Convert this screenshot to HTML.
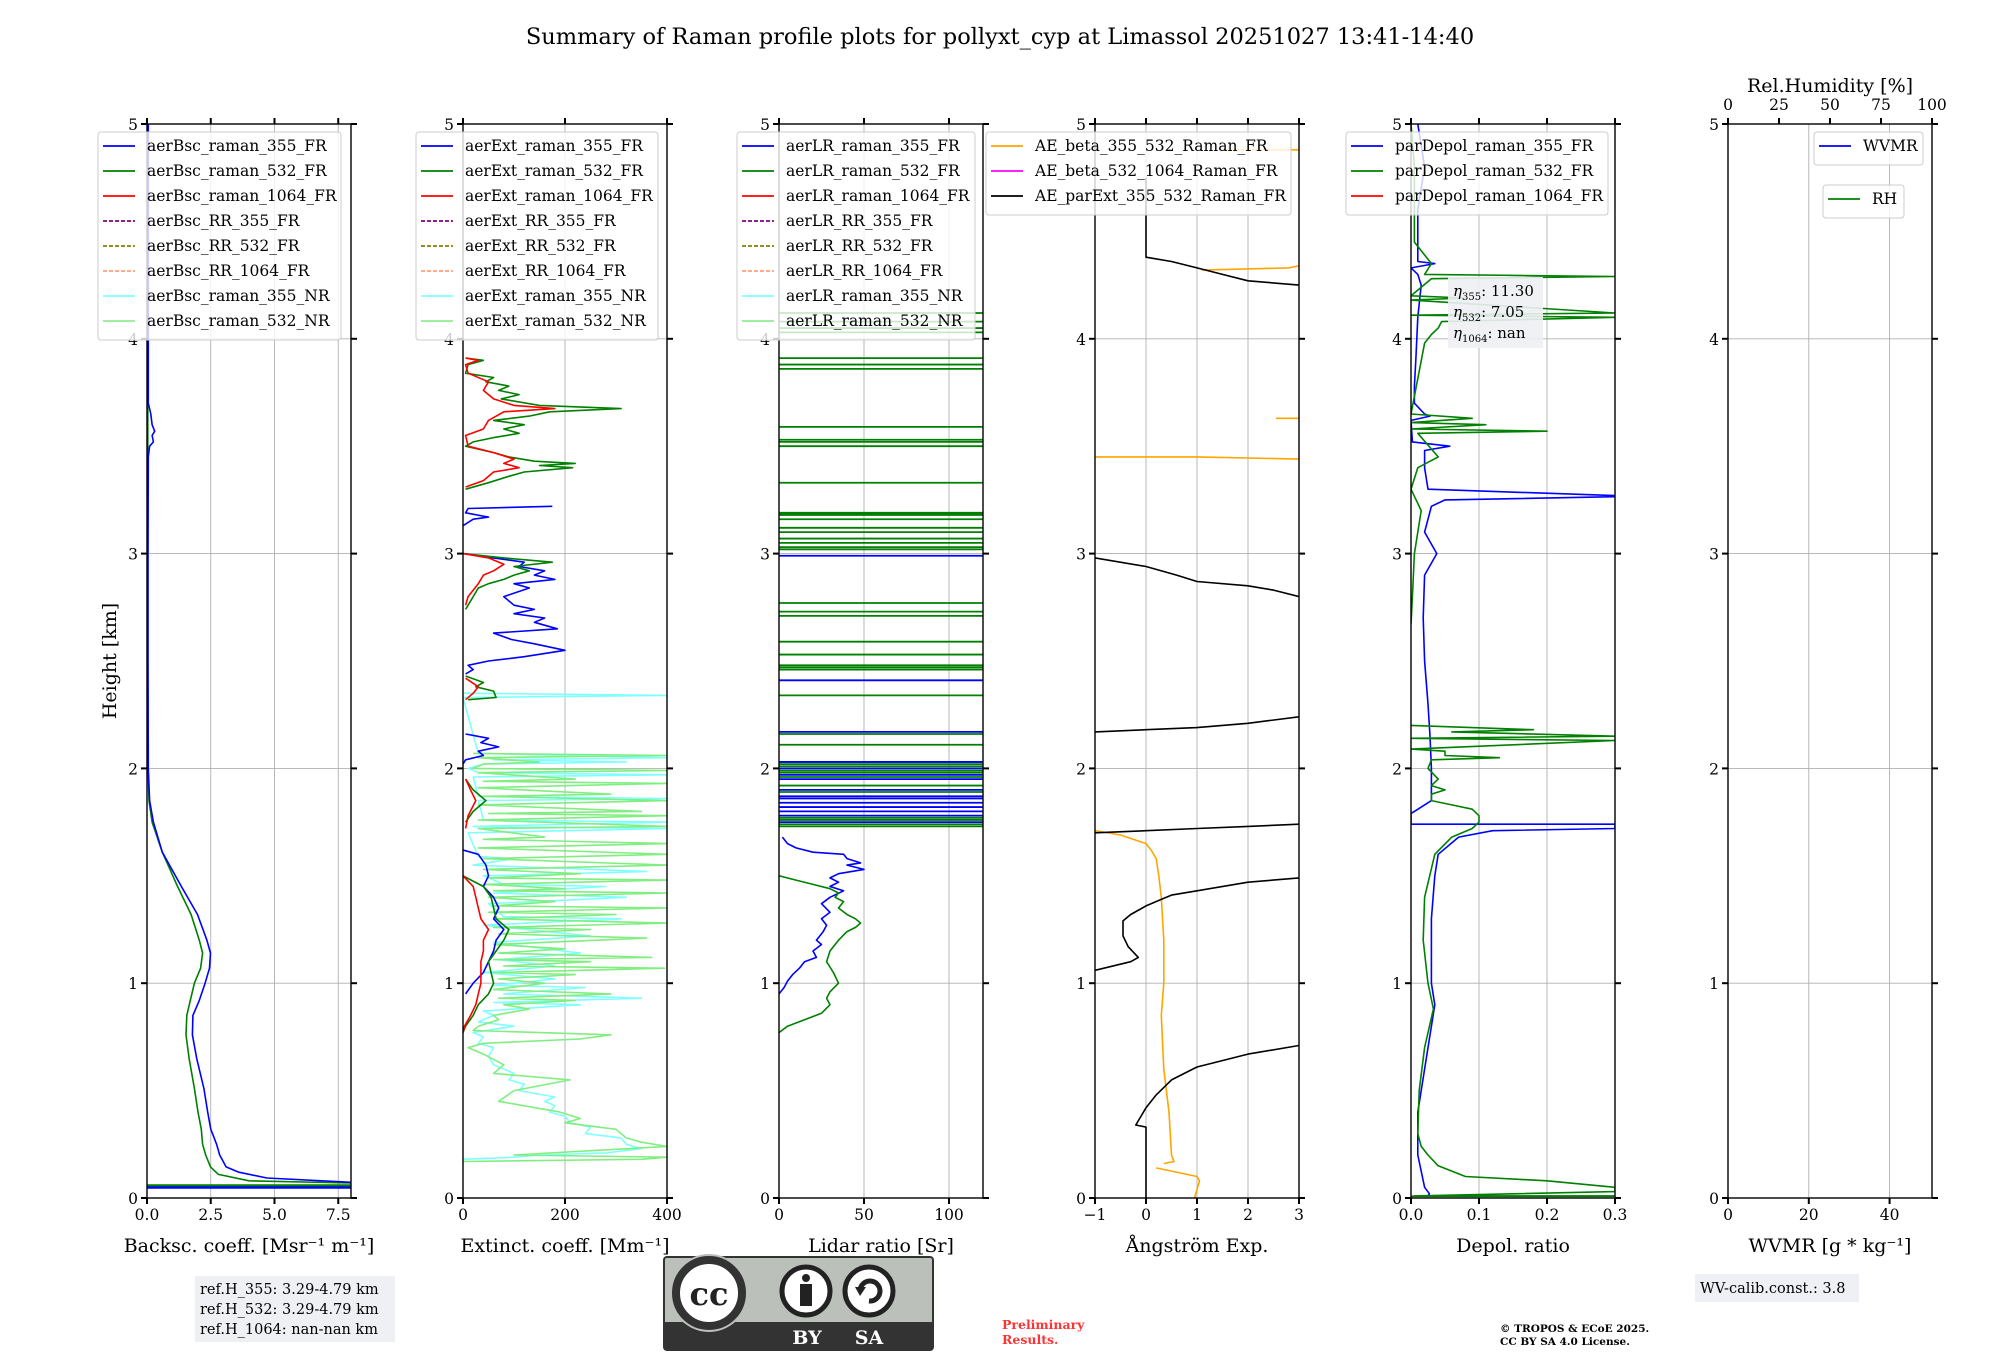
<!DOCTYPE html>
<html><head><meta charset="utf-8"><title>Raman profile summary</title>
<style>html,body{margin:0;padding:0;background:#fff}svg{display:block}text{font-family:"DejaVu Serif","Liberation Serif",serif}</style>
</head><body>
<svg id="fig" xmlns="http://www.w3.org/2000/svg" width="2000" height="1360" viewBox="0 0 2000 1360">
<rect width="2000" height="1360" fill="#fff"/>
<text x="1000" y="44" font-size="22.5" text-anchor="middle">Summary of Raman profile plots for pollyxt_cyp at Limassol 20251027 13:41-14:40</text>
<g id="axes"></g>
<g>
<rect x="195" y="1276" width="200" height="66" fill="#eef0f4"/>
<text x="200" y="1294" font-size="14.5">ref.H_355: 3.29-4.79 km</text>
<text x="200" y="1314" font-size="14.5">ref.H_532: 3.29-4.79 km</text>
<text x="200" y="1334" font-size="14.5">ref.H_1064: nan-nan km</text>
</g>
<g>
<rect x="664" y="1257" width="269" height="93" rx="3" fill="#bcc0bb" stroke="#333" stroke-width="2"/>
<rect x="665" y="1322" width="267" height="28" fill="#333"/>
<circle cx="709" cy="1293" r="39" fill="#bcc0bb"/>
<circle cx="709" cy="1293" r="33" fill="#fff" stroke="#333" stroke-width="8"/>
<text x="709" y="1305" font-size="32" font-weight="bold" text-anchor="middle" font-family="Liberation Sans, sans-serif" fill="#222">cc</text>
<circle cx="806" cy="1291" r="24" fill="#fff" stroke="#222" stroke-width="5"/>
<circle cx="806" cy="1278" r="4" fill="#222"/>
<rect x="800" y="1284" width="12" height="22" fill="#222"/>
<circle cx="869" cy="1291" r="24" fill="#fff" stroke="#222" stroke-width="5"/>
<path d="M860 1291 A10 10 0 1 1 869 1301" fill="none" stroke="#222" stroke-width="5"/>
<path d="M855 1287 L860 1296 L866 1287 Z" fill="#222"/>
<text x="807" y="1344" font-size="19" font-weight="bold" text-anchor="middle" font-family="Liberation Sans, sans-serif" fill="#fff">BY</text>
<text x="869" y="1344" font-size="19" font-weight="bold" text-anchor="middle" font-family="Liberation Sans, sans-serif" fill="#fff">SA</text>
</g>
<text x="1002" y="1329" font-size="12.5" font-weight="bold" fill="#ff3333">Preliminary</text>
<text x="1002" y="1344" font-size="12.5" font-weight="bold" fill="#ff3333">Results.</text>
<text x="1500" y="1332" font-size="10.5" font-weight="bold">© TROPOS &amp; ECoE 2025.</text>
<text x="1500" y="1345" font-size="10.5" font-weight="bold">CC BY SA 4.0 License.</text>
<g>
<rect x="1695" y="1274" width="164" height="28" fill="#eef0f4"/>
<text x="1700" y="1293" font-size="14.5">WV-calib.const.: 3.8</text>
</g>
</svg>
<script>
// ---------- DATA ----------
const bsc355H=[5,4.5,4.0,3.7,3.65,3.6,3.57,3.55,3.52,3.5,3.45,3.0,2.5,2.0,1.85,1.75,1.61,1.45,1.32,1.2,1.14,1.07,1.0,0.92,0.85,0.76,0.65,0.51,0.4,0.32,0.29,0.25,0.2,0.145,0.12,0.093,0.073,0.06,0.05,0.045];
const bsc355V=[0.05,0.05,0.05,0.05,0.15,0.2,0.3,0.2,0.25,0.1,0.05,0.04,0.04,0.05,0.1,0.25,0.6,1.35,1.98,2.35,2.49,2.45,2.28,2.05,1.8,1.78,1.95,2.23,2.38,2.5,2.6,2.73,2.85,3.1,3.6,4.7,8.0,8.5,8.5,8.5];
const bsc532H=[5,4.5,4.0,3.5,3.0,2.5,2.0,1.85,1.75,1.61,1.45,1.32,1.2,1.14,1.07,1.0,0.92,0.85,0.76,0.65,0.51,0.4,0.32,0.25,0.2,0.145,0.11,0.08,0.07,0.06];
const bsc532V=[0.02,0.03,0.03,0.03,0.03,0.03,0.04,0.08,0.2,0.6,1.2,1.73,2.05,2.18,2.1,1.86,1.7,1.56,1.53,1.65,1.86,2.0,2.13,2.18,2.3,2.49,2.8,4.0,8.0,8.5];
const bsc532LayerH=[0.06,0.057];
const bsc355LayerH=[0.05,0.047];

const ext532H=[3.91,3.90,3.88,3.84,3.82,3.80,3.78,3.76,3.74,3.72,3.69,3.675,3.66,3.64,3.62,3.60,3.58,3.56,3.54,3.52,3.50,3.47,3.45,3.43,3.42,3.41,3.40,3.38,3.36,3.33,3.30,null,3.0,2.98,2.96,2.94,2.92,2.90,2.88,2.86,2.84,2.80,2.76,2.74,null,2.43,2.40,2.38,2.36,2.33,2.32,null,1.95,1.90,1.85,1.80,1.75,null,1.50,1.45,1.40,1.35,1.30,1.25,1.20,1.15,1.10,1.05,1.0,0.95,0.90,0.85,0.80,0.77];
const ext532V=[5,40,10,5,60,45,90,70,110,75,150,310,170,130,60,120,80,110,60,20,5,60,90,140,220,150,215,120,90,50,5,null,0,80,175,100,130,100,80,50,30,20,10,5,null,5,40,25,60,65,10,null,5,20,45,20,5,null,0,40,55,60,65,90,80,65,50,55,60,50,30,20,5,0];
const ext1064H=[3.91,3.90,3.88,3.84,3.80,3.76,3.72,3.69,3.675,3.66,3.62,3.58,3.55,3.50,3.47,3.44,3.42,3.40,3.38,3.34,3.31,null,3.0,2.98,2.95,2.92,2.90,2.86,2.80,2.76,null,2.42,2.38,2.35,2.32,null,1.95,1.90,1.85,1.78,1.72,null,1.50,1.45,1.40,1.35,1.30,1.25,1.20,1.15,1.10,1.05,1.0,0.95,0.90,0.85,0.80,0.77];
const ext1064V=[5,30,5,10,50,40,60,100,180,80,50,40,5,10,60,100,80,110,60,40,5,null,0,50,80,60,40,30,10,5,null,5,30,20,5,null,5,15,25,10,5,null,0,20,25,30,35,50,40,40,35,35,35,30,25,15,3,0];
const ext355H=[3.22,3.21,3.19,3.17,3.16,3.13,null,3.0,2.98,2.96,2.94,2.92,2.90,2.88,2.86,2.84,2.80,2.76,2.74,2.72,2.70,2.68,2.65,2.63,2.60,2.58,2.55,2.52,2.50,2.48,2.46,2.44,null,2.16,2.14,2.12,2.10,2.08,2.06,2.04,2.02,null,1.62,1.60,1.55,1.50,1.45,1.40,1.35,1.30,1.25,1.20,1.15,1.10,1.05,1.0,0.95];
const ext355V=[175,10,5,50,20,0,null,0,60,120,110,160,140,180,100,130,80,100,140,100,160,140,185,60,95,140,200,120,50,10,20,5,null,5,50,35,70,30,40,5,0,null,0,30,45,50,40,60,70,60,80,65,60,50,40,20,5];
const ext355nrH=[2.35,2.34,2.33,2.07,2.05,2.04,2.03,2.02,2.00,1.98,1.97,1.96,1.87,1.86,1.85,1.76,1.75,1.73,1.72,1.70,1.59,1.58,1.55,1.52,1.50,1.46,1.45,1.42,1.40,1.37,1.31,1.30,1.27,1.22,1.19,1.14,1.11,1.08,1.05,1.02,0.99,0.98,0.95,0.93,0.91,0.90,0.87,0.85,0.82,0.80,0.77,0.75,0.72,0.70,0.66,0.62,0.58,0.55,0.53,0.50,0.47,0.45,0.43,0.40,0.38,0.35,0.33,0.30,0.28,0.25,0.23,0.21,0.20,0.19,0.18];
const ext355nrV=[0,400,0,30,400,60,320,40,10,30,400,20,30,400,30,40,400,20,400,10,30,100,20,360,40,80,280,60,320,50,80,310,40,250,60,230,70,180,40,180,60,240,80,350,60,230,40,60,30,100,20,40,30,60,50,60,100,90,120,110,180,160,180,170,200,210,250,240,310,320,350,280,150,100,0];
const ext532nrH=[2.07,2.06,2.05,2.03,2.02,2.00,1.99,1.98,1.95,1.94,1.93,1.91,1.88,1.87,1.85,1.83,1.80,1.79,1.78,1.76,1.73,1.72,1.68,1.67,1.65,1.63,1.60,1.58,1.55,1.53,1.51,1.49,1.48,1.46,1.44,1.43,1.42,1.40,1.38,1.36,1.35,1.33,1.32,1.30,1.28,1.26,1.25,1.23,1.21,1.18,1.16,1.14,1.12,1.11,1.10,1.08,1.07,1.05,1.04,1.02,1.00,0.97,0.95,0.93,0.92,0.90,0.88,0.85,0.83,0.80,0.78,0.76,0.74,0.72,0.70,0.67,0.62,0.58,0.55,0.50,0.45,0.40,0.37,0.35,0.32,0.28,0.26,0.24,0.22,0.20,0.19,0.18,0.17];
const ext532nrV=[20,400,30,150,40,20,400,30,220,40,400,30,290,40,400,30,350,50,400,30,400,30,160,40,400,30,400,40,400,40,230,50,400,40,200,60,400,50,180,60,400,50,300,60,400,60,250,70,360,60,200,70,370,60,250,80,395,60,220,70,160,60,290,70,220,80,130,60,70,30,20,290,230,40,10,40,80,60,210,100,70,190,230,200,300,320,350,400,250,100,400,350,0];

const lr355H=[1.68,1.65,1.63,1.61,1.60,1.58,1.56,1.55,1.53,1.51,1.49,1.47,1.45,1.43,1.40,1.37,1.33,1.30,1.27,1.24,1.20,1.18,1.15,1.12,1.10,1.07,1.04,1.01,0.98,0.95];
const lr355V=[2,5,10,20,38,40,48,40,50,35,30,35,30,38,30,25,30,25,28,26,22,25,20,22,15,12,8,5,3,0];
const lr532H=[1.50,1.48,1.46,1.44,1.42,1.40,1.38,1.35,1.32,1.30,1.28,1.26,1.24,1.20,1.15,1.10,1.05,1.00,0.96,0.93,0.90,0.86,0.83,0.80,0.77];
const lr532V=[0,10,20,30,35,33,38,35,40,45,48,45,40,35,30,28,32,35,30,28,30,25,15,5,0];
const lr532LayerH=[4.12,4.08,4.05,4.03,3.91,3.88,3.86,3.59,3.53,3.52,3.50,3.33,3.19,3.185,3.18,3.16,3.12,3.10,3.07,3.05,3.03,3.02,2.77,2.73,2.71,2.59,2.53,2.48,2.47,2.46,2.34,2.16,2.11,2.03,2.02,2.01,1.99,1.98,1.96,1.92,1.89,1.77,1.76,1.74,1.73];
const lr355LayerH=[2.99,2.41,2.17,2.03,2.00,1.97,1.95,1.90,1.87,1.86,1.84,1.82,1.80,1.78,1.75];

const aeExtH=[4.75,4.38,4.36,4.33,4.30,4.27,4.25,null,2.98,2.94,2.90,2.87,2.85,2.83,2.80,null,2.17,2.18,2.19,2.21,2.24,null,1.70,1.71,1.72,1.73,1.74,null,1.49,1.47,1.43,1.41,1.39,1.36,1.32,1.29,1.22,1.17,1.12,1.10,1.06,null,0.71,0.67,0.61,0.55,0.48,0.42,0.34,0.33,0.0];
const aeExtV=[0,0,0.5,1,1.5,2,3,null,-1,0,0.6,1,2,2.5,3,null,-1,0,1,2,3,null,-1,0,1,2,3,null,3,2,1,0.5,0.3,0,-0.3,-0.45,-0.45,-0.35,-0.15,-0.3,-1,null,3,2,1,0.5,0.2,0,-0.2,0,0];
const aeBetaH=[4.88,4.88,null,4.32,4.33,4.34,null,3.63,3.63,null,3.45,3.45,3.44,null,1.71,1.69,1.65,1.62,1.58,1.50,1.40,1.20,1.00,0.85,0.60,0.40,0.20,0.17,0.16,null,0.14,0.10,0.08,0.0];
const aeBetaV=[1.5,3,null,1.1,2.8,3,null,2.55,3,null,-1,1,3,null,-1,-0.5,0,0.1,0.2,0.25,0.3,0.35,0.35,0.3,0.35,0.45,0.5,0.55,0.35,null,0.2,1.0,1.05,0.95];

const dep355H=[5.0,4.8,4.6,4.4,4.36,4.35,4.33,4.30,4.25,4.1,3.9,3.78,3.7,3.65,3.64,3.62,3.52,3.50,3.48,3.4,3.3,3.27,3.265,3.25,3.22,3.1,3.0,2.9,2.7,2.5,2.3,2.15,2.0,1.85,1.8,1.79,1.74,1.74,1.72,1.71,1.68,1.6,1.5,1.3,1.0,0.9,0.8,0.6,0.4,0.2,0.05,0.02,0.01];
const dep355V=[0.01,0.02,0.01,0.01,0.01,0.035,0.0,0.01,0.015,0.01,0.007,0.005,0.005,0.02,0.028,0.0,0.002,0.057,0.02,0.02,0.025,0.3,0.3,0.05,0.03,0.02,0.038,0.02,0.018,0.02,0.025,0.028,0.03,0.03,0.005,0.0,0.0,0.3,0.3,0.12,0.07,0.04,0.035,0.03,0.03,0.035,0.03,0.02,0.01,0.01,0.02,0.027,0.025];
const dep532H=[5.0,4.8,4.45,4.35,4.30,4.29,4.28,4.2,4.19,4.18,4.12,4.11,4.10,4.08,4.05,4.02,3.98,3.65,3.63,3.61,3.6,3.58,3.57,3.56,3.45,3.4,3.3,3.2,3.0,2.8,2.67,null,2.2,2.18,2.17,2.15,2.14,2.13,2.09,2.08,2.06,2.05,2.04,2.0,1.95,1.92,1.9,1.88,1.85,1.83,1.81,1.78,1.75,1.72,1.68,1.6,1.4,1.2,1.0,0.88,0.7,0.5,0.3,0.24,0.2,0.15,0.1,0.08,0.05,0.03,0.01,0.01];
const dep532V=[0,0.005,0.005,0.03,0.02,0.3,0.03,0,0.08,0,0.3,0,0.3,0.045,0.04,0.03,0.02,0,0.09,0,0.11,0,0.2,0.01,0.04,0.01,0,0.015,0.005,0.002,0,null,0,0.18,0.06,0.3,0,0.3,0,0.05,0.05,0.13,0.03,0.025,0.04,0.03,0.05,0.03,0.03,0.06,0.09,0.1,0.1,0.09,0.06,0.035,0.02,0.018,0.025,0.033,0.02,0.012,0.01,0.015,0.025,0.04,0.08,0.2,0.3,0.3,0.005,0.3];
const dep532LayerH=[0.008];

const yTicks=[0,1,2,3,4,5];
const bscTicks=[0,2.5,5,7.5], bscTickLabels=['0.0','2.5','5.0','7.5'];
const extTicks=[0,200,400], extTickLabels=['0','200','400'];
const lrTicks=[0,50,100], lrTickLabels=['0','50','100'];
const aeTicks=[-1,0,1,2,3], aeTickLabels=['\u22121','0','1','2','3'];
const depTicks=[0,0.1,0.2,0.3], depTickLabels=['0.0','0.1','0.2','0.3'];
const wvTicks=[0,20,40], wvTickLabels=['0','20','40'];
const rhTicks=[0,25,50,75,100], rhTickLabels=['0','25','50','75','100'];

// ---------- LAYOUT ----------
const NS='http://www.w3.org/2000/svg';
const root=document.getElementById('axes');
const TOP=124,BOT=1198,W=204,HMAX=5;
function yS(h){return BOT-(h/HMAX)*(BOT-TOP);}
function mk(tag,attrs,parent){const e=document.createElementNS(NS,tag);for(const k in attrs)e.setAttribute(k,attrs[k]);(parent||root).appendChild(e);return e;}
function txt(s,attrs,parent){const e=mk('text',attrs,parent);e.textContent=s;return e;}

const panels=[
 {x0:147,min:0,max:8,t:bscTicks,tl:bscTickLabels,label:'Backsc. coeff. [Msr\u207B\u00B9 m\u207B\u00B9]',name:'backscatter'},
 {x0:463,min:0,max:400,t:extTicks,tl:extTickLabels,label:'Extinct. coeff. [Mm\u207B\u00B9]',name:'extinction'},
 {x0:779,min:0,max:120,t:lrTicks,tl:lrTickLabels,label:'Lidar ratio [Sr]',name:'lidar-ratio'},
 {x0:1095,min:-1,max:3,t:aeTicks,tl:aeTickLabels,label:'\u00C5ngstr\u00F6m Exp.',name:'angstrom'},
 {x0:1411,min:0,max:0.3,t:depTicks,tl:depTickLabels,label:'Depol. ratio',name:'depol'},
 {x0:1728,min:0,max:50.5,t:wvTicks,tl:wvTickLabels,label:'WVMR [g * kg\u207B\u00B9]',name:'wvmr'}
];
panels.forEach(p=>{p.xS=v=>p.x0+(v-p.min)/(p.max-p.min)*W;});

const defs=mk('defs',{});
panels.forEach((p,i)=>{
 const g=mk('g',{});
 
 
 p.g=g;
 const cp=mk('clipPath',{id:'clip'+i},defs);
 mk('rect',{x:p.x0,y:TOP,width:W,height:BOT-TOP},cp);
 p.t.forEach(v=>{const l=mk('line',{x1:p.xS(v),x2:p.xS(v),y1:TOP,y2:BOT,stroke:'#b0b0b0','stroke-width':0.9},g);
  
  });
 yTicks.forEach(v=>{const l=mk('line',{x1:p.x0,x2:p.x0+W,y1:yS(v),y2:yS(v),stroke:'#b0b0b0','stroke-width':0.9},g);
  
  });
 p.plot=mk('g',{'clip-path':'url(#clip'+i+')'},g);
});

function line(p,H,V,color,name,opts){
 let d='',pen=false;
 for(let k=0;k<H.length;k++){
  if(H[k]===null||V[k]===null){pen=false;continue;}
  const x=p.xS(V[k]).toFixed(1),y=yS(H[k]).toFixed(1);
  d+=(pen?'L':'M')+x+' '+y;pen=true;
 }
 const e=mk('path',{d:d,fill:'none',stroke:color,'stroke-width':(opts&&opts.w)||1.6,'stroke-linejoin':'round'},p.plot);
 
 
 return e;
}
function layers(p,H,color,name){
 H.forEach(h=>{const e=mk('line',{x1:p.x0,x2:p.x0+W,y1:yS(h),y2:yS(h),stroke:color,'stroke-width':1.8},p.plot);
  
  });
}
const P=panels;
line(P[0],bsc532H,bsc532V,'#008000','bsc-532-line');
line(P[0],bsc355H,bsc355V,'#0000ff','bsc-355-line');
layers(P[0],bsc532LayerH,'#008000','bsc-532-ground-line');
layers(P[0],bsc355LayerH,'#0000ff','bsc-355-ground-line');
line(P[1],ext355nrH,ext355nrV,'#80ffff','ext-355-nr-line');
line(P[1],ext532nrH,ext532nrV,'#80ee80','ext-532-nr-line');
line(P[1],ext355H,ext355V,'#0000ff','ext-355-line');
line(P[1],ext532H,ext532V,'#008000','ext-532-line');
line(P[1],ext1064H,ext1064V,'#ff0000','ext-1064-line');
layers(P[2],lr532LayerH,'#008000','lr-532-layer-line');
layers(P[2],lr355LayerH,'#0000ff','lr-355-layer-line');
line(P[2],lr355H,lr355V,'#0000ff','lr-355-line');
line(P[2],lr532H,lr532V,'#008000','lr-532-line');
line(P[3],aeBetaH,aeBetaV,'#ffa500','ae-beta-355-532-line');
line(P[3],aeExtH,aeExtV,'#000000','ae-parext-355-532-line');
line(P[4],dep355H,dep355V,'#0000ff','depol-355-line');
line(P[4],dep532H,dep532V,'#008000','depol-532-line');
layers(P[4],dep532LayerH,'#008000','depol-532-ground-line');

panels.forEach((p,i)=>{
 const g=p.g;
 const fr=mk('rect',{x:p.x0,y:TOP,width:W,height:BOT-TOP,fill:'none',stroke:'#000','stroke-width':1.4},g);
 
 
 p.t.forEach((v,k)=>{
  const x=p.xS(v);
  mk('line',{x1:x,x2:x,y1:BOT,y2:BOT+6,stroke:'#000','stroke-width':2},g);
  if(i<5) mk('line',{x1:x,x2:x,y1:TOP,y2:TOP-6,stroke:'#000','stroke-width':2},g);
  const t=txt(p.tl[k],{x:x,y:BOT+22,'font-size':15.5,'text-anchor':'middle'},g);
  
  
 });
 yTicks.forEach(v=>{
  const y=yS(v);
  mk('line',{x1:p.x0-6,x2:p.x0,y1:y,y2:y,stroke:'#000','stroke-width':2},g);
  mk('line',{x1:p.x0+W,x2:p.x0+W+6,y1:y,y2:y,stroke:'#000','stroke-width':2},g);
  const t=txt(String(v),{x:p.x0-9,y:y+6,'font-size':15.5,'text-anchor':'end'},g);
  
  
 });
 const xl=txt(p.label,{x:p.x0+W/2,y:BOT+54,'font-size':19,'text-anchor':'middle'},g);
 
 
});
const yl=txt('Height [km]',{x:0,y:0,'font-size':19,'text-anchor':'middle',transform:'translate(116,661) rotate(-90)'});


const rhMin=0,rhMax=100;
function rhS(v){return 1728+(v-rhMin)/(rhMax-rhMin)*W;}
rhTicks.forEach((v,k)=>{
 mk('line',{x1:rhS(v),x2:rhS(v),y1:TOP,y2:TOP-6,stroke:'#000','stroke-width':2});
 const t=txt(rhTickLabels[k],{x:rhS(v),y:TOP-14,'font-size':15.5,'text-anchor':'middle'});
 
 
});
const rhl=txt('Rel.Humidity [%]',{x:1830,y:92,'font-size':19,'text-anchor':'middle'});



function legend(x,y,w,entries,name){
 const g=mk('g',{});
 
 
 mk('rect',{x:x,y:y,width:w,height:entries.length*25+8,rx:3,fill:'#fff','fill-opacity':0.8,stroke:'#cccccc','stroke-width':1},g);
 entries.forEach((e,k)=>{
  const cy=y+14+k*25;
  const l=mk('line',{x1:x+5,x2:x+37,y1:cy,y2:cy,stroke:e[1],'stroke-width':1.8},g);
  if(e[2]) l.setAttribute('stroke-dasharray','4 2');
  
  
  const t=txt(e[0],{x:x+49,y:cy+5,'font-size':15.5},g);
  
  
 });
}
function eightLegend(pre){return [[pre+'_raman_355_FR','#0000ff'],[pre+'_raman_532_FR','#008000'],[pre+'_raman_1064_FR','#ff0000'],[pre+'_RR_355_FR','#800080',1],[pre+'_RR_532_FR','#808000',1],[pre+'_RR_1064_FR','#ffa07a',1],[pre+'_raman_355_NR','#80ffff'],[pre+'_raman_532_NR','#90ee90']];}
legend(98,132,243,eightLegend('aerBsc'),'backscatter-legend');
legend(416,132,242,eightLegend('aerExt'),'extinction-legend');
legend(737,132,238,eightLegend('aerLR'),'lidar-ratio-legend');
legend(986,132,305,[['AE_beta_355_532_Raman_FR','#ffa500'],['AE_beta_532_1064_Raman_FR','#ff00ff'],['AE_parExt_355_532_Raman_FR','#000000']],'angstrom-legend');
legend(1346,132,262,[['parDepol_raman_355_FR','#0000ff'],['parDepol_raman_532_FR','#008000'],['parDepol_raman_1064_FR','#ff0000']],'depol-legend');
legend(1814,132,109,[['WVMR','#0000ff']],'wvmr-legend');
legend(1823,185,81,[['RH','#008000']],'rh-legend');

const eg=mk('g',{});


mk('rect',{x:1448,y:277,width:95,height:71,fill:'#eef0f4','fill-opacity':0.9},eg);
[['355','11.30'],['532','7.05'],['1064','nan']].forEach((e,k)=>{
 const t=mk('text',{x:1453,y:296+k*21,'font-size':15},eg);
 t.innerHTML='<tspan font-style="italic">\u03B7</tspan><tspan font-size="10" dy="4">'+e[0]+'</tspan><tspan dy="-4">: '+e[1]+'</tspan>';
});
</script>
</body></html>
